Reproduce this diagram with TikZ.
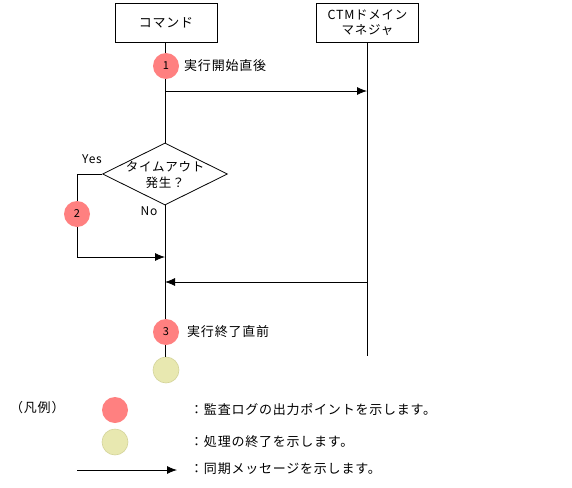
\documentclass[tikz,border=0pt]{standalone}
\usepackage{fontspec}
\setmainfont{Noto Sans CJK JP}[LetterSpace=6]
\usetikzlibrary{shapes.geometric,arrows.meta}
\begin{document}
\begin{tikzpicture}[x=1pt,y=-1pt,
  every node/.style={font=\fontsize{13}{15}\selectfont, inner sep=0pt},
  actor/.style={draw, line width=0.8pt, minimum width=102pt, minimum height=39pt, align=center},
  life/.style={line width=0.8pt},
  msg/.style={line width=0.8pt, -{Latex[length=10pt,width=8pt]}},
  audit/.style={circle, fill=ff8080, minimum size=26pt, font=\fontsize{11}{12}\selectfont},
  endpt/.style={circle, fill=e8e8b0, draw=d8d8a0, line width=0.6pt, minimum size=26pt},
  lbl/.style={anchor=west}
]
\definecolor{ff8080}{HTML}{FF8080}
\definecolor{e8e8b0}{HTML}{E8E8B0}
\definecolor{d8d8a0}{HTML}{D4D49A}
\useasboundingbox (0,0) rectangle (572,487);
% actors
\node[actor] (cmd) at (166,22.5) {コマンド};
\node[actor, font=\fontsize{12.5}{15}\selectfont] (ctm) at (367.5,22.5) {CTMドメイン\\マネジャ};
% lifeline points
\coordinate (ctmEnd) at (367,356);
\node[diamond, draw, line width=0.8pt, minimum width=125pt, minimum height=62pt] (dec) at (165,174) {};
\node[align=center, font=\fontsize{12.5}{15.5}\selectfont] (dect) at (165,175) {タイムアウト\\発生？};
\node[endpt] (endc) at (166,370) {};
% lifelines
\draw[life] (cmd.south -| 165,0) -- (dec.north);
\draw[life] (dec.south) -- (endc.north -| 165,0);
\draw[life] (ctm.south -| 367,0) -- (ctmEnd);
% messages
\coordinate (m1s) at (165,91);
\coordinate (m1e) at (367,91);
\draw[msg] (m1s) -- (m1e);
\coordinate (m2s) at (367,282);
\coordinate (m2e) at (165,282);
\draw[msg] (m2s) -- (m2e);
% yes loop
\coordinate (ya) at (77,174);
\coordinate (yb) at (77,257);
\coordinate (yc) at (165,257);
\draw[life] (dec.west) -- (ya) -- (yb);
\draw[msg] (yb) -- (yc);
\node[font=\fontsize{12}{14}\selectfont] at (92,159) {Yes};
\node[font=\fontsize{12}{14}\selectfont] at (149,211) {No};
% audit points
\node[audit] (a1) at (166,66) {1};
\node[lbl] (t1) at (184,66) {実行開始直後};
\node[audit] (a2) at (77,214) {2};
\node[audit] (a3) at (166,332) {3};
\node[lbl] (t3) at (187,332) {実行終了直前};
% legend
\node[lbl] (leg) at (10,408) {（凡例）};
\node[audit] (la) at (115,410) {};
\node[lbl] (lat) at (190,410) {：監査ログの出力ポイントを示します。};
\node[endpt] (le) at (115,442) {};
\node[lbl] (let) at (190,442) {：処理の終了を示します。};
\coordinate (lms) at (77,470);
\coordinate (lme) at (177,470);
\draw[msg] (lms) -- (lme);
\node[lbl] (lmt) at (190,469) {：同期メッセージを示します。};
\end{tikzpicture}
\end{document}
